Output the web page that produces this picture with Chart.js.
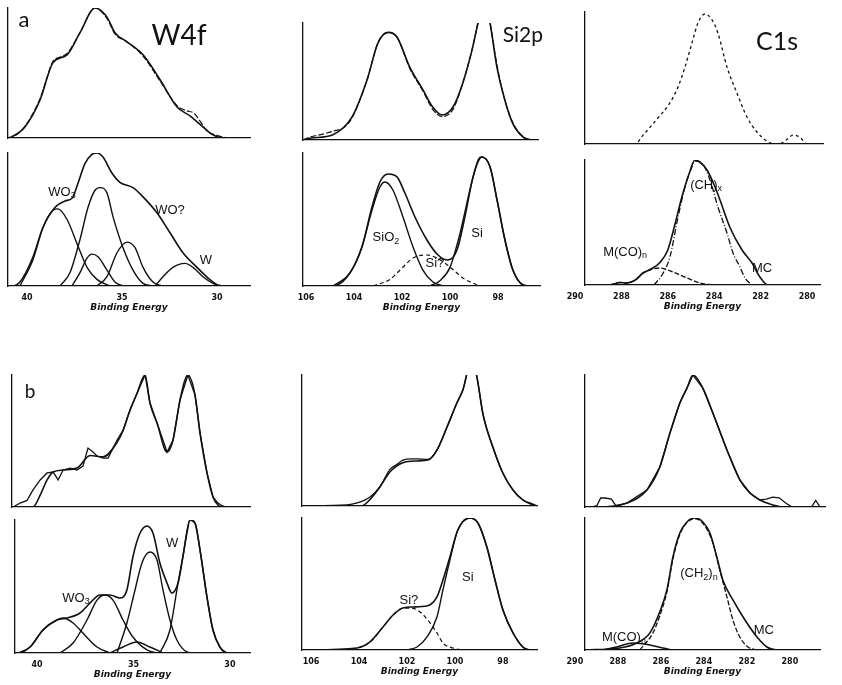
<!DOCTYPE html>
<html>
<head>
<meta charset="utf-8">
<script src="https://cdn.jsdelivr.net/npm/chart.js@4.4.1/dist/chart.umd.min.js"></script>
<style>
  body { margin: 0; background: #fff; }
  #page { position: relative; width: 842px; height: 685px; overflow: hidden; background: #fff; }
  canvas { position: absolute; }
</style>
</head>
<body>
<div id="page"></div>
<script>
// ---------------- tick labels ----------------
const w4fTicks = [40, 35, 30];
const si2pTicks = [106, 104, 102, 100, 98];
const c1sTicks = [290, 288, 286, 284, 282, 280];

// ================= a : W4f =================
const aW4fTopDataBE = [41.0, 40.79, 40.11, 39.32, 38.63, 38.3, 37.89, 37.21, 36.42, 35.79, 35.37, 34.74, 33.89, 33.0, 32.11, 31.6, 31.2, 30.89, 30.5, 30.0, 29.5];
const aW4fTopData   = [0, 0.5, 9, 30, 59, 62, 65, 81, 100, 92, 80, 74, 63, 44, 25, 21, 19, 13, 5, 2, 0];
const aW4fTopFitBE  = [41.0, 40.79, 40.11, 39.32, 38.63, 37.89, 37.21, 36.42, 35.79, 35.37, 34.74, 33.89, 33.0, 32.11, 31.42, 30.89, 30.37, 30.0, 29.68];
const aW4fTopFit    = [0, 1, 8.5, 29, 58, 64, 81, 100, 93, 81, 74, 64, 45, 24, 17, 10.5, 4, 1, 0];

const aW4fSumBE = [41.0, 40.79, 40.37, 39.68, 39.16, 38.53, 38.0, 37.63, 37.32, 36.95, 36.58, 36.32, 36.0, 35.53, 35.11, 34.42, 33.89, 33.16, 32.47, 31.79, 31.05, 30.47, 30.0, 29.74];
const aW4fSum   = [0, 0, 3, 22, 44, 59, 64, 66, 77, 92, 99, 100, 97, 85, 78, 74, 67, 55, 40, 25, 14, 6, 1, 0];
const aW4fC1BE = [40.37, 39.68, 39.16, 38.63, 38.37, 37.89, 37.37, 36.84, 36.32, 35.63];
const aW4fC1   = [0, 20, 44, 57, 58, 50, 32, 14, 5, 0];
const aW4fC2BE = [38.26, 37.74, 37.21, 36.79, 36.42, 36.16, 35.79, 35.47, 34.95, 34.42, 33.89, 33.37];
const aW4fC2   = [0, 10, 35, 59, 72, 74, 70, 52, 29, 12, 2, 0];
const aW4fC3BE = [37.63, 37.21, 36.84, 36.58, 36.26, 35.79, 35.37, 34.95];
const aW4fC3   = [0, 10, 21, 24, 22, 12, 3, 0];
const aW4fC4BE = [36.32, 35.79, 35.26, 34.74, 34.32, 33.89, 33.37, 32.84];
const aW4fC4   = [0, 7, 25, 33, 29, 14, 3, 0];
const aW4fC5BE = [33.26, 32.84, 32.32, 31.68, 31.26, 30.74, 30.21, 29.84];
const aW4fC5   = [0, 7, 14, 17, 14, 7, 2, 0];

// ================= a : Si2p =================
const aSiTopDataBE = [106.12, 105.83, 105.3, 104.88, 104.4, 104.08, 103.46, 103.0, 102.58, 102.21, 101.67, 101.13, 100.71, 100.33, 99.88, 99.46, 99.08, 98.83, 98.58, 98.33, 98.04, 97.71, 97.38, 96.96, 96.67, 96.33];
const aSiTopData   = [0, 2.5, 5, 7.5, 11, 19, 51, 83, 92, 88, 61, 42, 26, 20, 26, 49, 77, 100, 120, 100, 64, 34, 15, 3, 0.5, 0];
const aSiTopFitBE  = [106.12, 105.83, 104.88, 104.08, 103.46, 103.0, 102.58, 102.21, 101.67, 101.13, 100.71, 100.33, 99.88, 99.46, 99.08, 98.83, 98.58, 98.33, 98.04, 97.71, 97.38, 96.96, 96.67, 96.33];
const aSiTopFit    = [0, 1.5, 4.5, 19.7, 51, 83, 92, 88, 62, 43, 28, 21.4, 28, 49, 77, 100, 120, 100, 62, 34, 14, 2.6, 0, 0];

const aSiSumBE = [106.12, 104.88, 104.17, 103.67, 103.25, 102.92, 102.58, 102.21, 101.88, 101.46, 100.96, 100.5, 100.08, 99.71, 99.38, 99.04, 98.67, 98.33, 98.04, 97.71, 97.38, 96.96, 96.67, 96.25];
const aSiSum   = [0, 0, 9.8, 29.3, 59.4, 78.2, 84.2, 82, 69.9, 51.9, 34.6, 23.3, 19.5, 27, 51.9, 82, 97, 89.5, 64.7, 34.6, 12, 0.8, 0, 0];
const aSiO2BE = [104.88, 104.17, 103.67, 103.25, 102.92, 102.71, 102.38, 101.96, 101.54, 101.13, 100.71, 100.29];
const aSiO2   = [0, 9.8, 29.3, 57.1, 74.4, 78.2, 72.2, 51.9, 29.3, 12, 3, 0];
const aSiQBE = [103.2, 102.5, 102.08, 101.54, 100.96, 100.54, 100.0, 99.46, 98.88];
const aSiQ   = [0, 5, 12, 21, 23.3, 21, 14.3, 6, 0.8];
const aSiBE = [100.83, 100.42, 100.0, 99.58, 99.17, 98.83, 98.67, 98.33, 98.04, 97.71, 97.38, 96.96, 96.67];
const aSi   = [0, 4, 14, 39.8, 72.2, 94.7, 97, 89.5, 64.7, 34.6, 12, 0.8, 0];

// ================= a : C1s =================
const aC1sTopBE = [289.57, 287.6, 287.4, 287.1, 286.42, 285.91, 285.56, 285.26, 284.96, 284.70, 284.40, 284.09, 283.84, 283.45, 283.02, 282.59, 282.16, 281.90, 281.59, 281.2, 280.9, 280.6, 280.3, 280.0, 279.31];
const aC1sTop   = [0, 0, 0, 6, 19.8, 31.1, 43.2, 58.3, 76.5, 91.7, 98.5, 93.9, 84.1, 58.3, 38.6, 20.5, 9.1, 4.5, 0.8, 0, 3, 6.8, 5, 0, 0];

const aC1sSumBE = [289.57, 288.5, 288.06, 287.76, 287.4, 287.07, 286.7, 286.34, 286.0, 285.7, 285.4, 285.1, 284.83, 284.6, 284.31, 284.0, 283.75, 283.32, 282.8, 282.37, 282.03, 281.68, 279.44];
const aC1sSum   = [0, 0, 2, 1.6, 4, 9.6, 13, 18, 28, 48, 70, 88, 100, 98, 92, 80, 68, 46, 28, 17.6, 6.4, 0, 0];
const aCHBE = [286.6, 286.25, 285.91, 285.56, 285.26, 284.96, 284.83, 284.53, 284.18, 283.84, 283.45, 283.19, 282.89, 282.67, 282.37];
const aCH   = [0, 8, 22.4, 54.4, 78.4, 94.4, 99.2, 97.6, 84, 62.4, 41.6, 25.6, 14.4, 5.6, 0];
const aMCOBE = [288.5, 288.06, 287.76, 287.4, 287.07, 286.7, 286.34, 285.78, 285.17, 284.61, 284.05];
const aMCO   = [0, 2, 1.6, 4, 9.6, 12.5, 13.6, 10.4, 5.6, 1.6, 0];

// ================= b : W4f =================
const bW4fTopFitBE = [41.3, 40.21, 39.84, 39.48, 39.17, 38.65, 37.93, 37.25, 36.58, 35.85, 35.54, 35.18, 34.82, 34.40, 34.15, 33.78, 33.26, 32.95, 32.59, 32.18, 31.81, 31.55, 31.19, 30.88, 30.62, 30.41, 28.96];
const bW4fTopFit   = [0, 0, 9, 20.5, 26.5, 28, 29.5, 39, 38, 49, 58, 73.5, 86, 100, 79, 63.6, 41.7, 50.8, 81, 100, 84.8, 56, 25.8, 7.6, 1.5, 0, 0];
const bW4fTopDataBE = [41.3, 41.24, 40.88, 40.52, 40.21, 39.84, 39.48, 39.17, 38.91, 38.65, 38.29, 37.93, 37.62, 37.36, 37.10, 36.89, 36.58, 36.32, 35.85, 35.54, 35.18, 34.82, 34.40, 34.15, 33.78, 33.26, 32.95, 32.59, 32.18, 31.81, 31.55, 31.19, 30.88, 30.62, 30.41, 30.2, 28.96];
const bW4fTopData   = [0, 0, 3, 5, 12.9, 20.5, 25.8, 26.5, 20.5, 28, 29.5, 28, 31, 44.7, 41.7, 38.6, 37.1, 37.1, 50.8, 58.3, 73.5, 86, 100, 79, 63.6, 41.7, 50.8, 81, 100, 84.8, 56, 25.8, 7.6, 3, 1, 0, 0];

const bW4fSumBE = [41.14, 40.98, 40.36, 39.69, 38.96, 38.45, 37.77, 37.25, 36.74, 36.22, 35.70, 35.34, 35.03, 34.66, 34.30, 33.99, 33.63, 33.26, 33.01, 32.69, 32.44, 32.23, 32.07, 31.81, 31.55, 31.19, 30.88, 30.52, 30.16, 28.96];
const bW4fSum   = [0, 0, 4.5, 17.3, 24.8, 26.3, 30.1, 37.6, 43.6, 43.6, 41.4, 47.4, 72.2, 90.2, 95.5, 90.2, 67.7, 52.6, 45.1, 52.6, 72.2, 90.2, 100, 97.7, 77.4, 42.1, 17.3, 4.5, 0, 0];
const bW4fC1BE = [40.98, 40.36, 39.69, 39.07, 38.65, 38.13, 37.62, 36.89, 36.22];
const bW4fC1   = [0, 4.5, 17.3, 24.1, 26.3, 22.6, 15, 4.5, 0];
const bW4fC2BE = [38.81, 38.13, 37.41, 36.89, 36.48, 36.06, 35.54, 35.03, 34.30, 33.78];
const bW4fC2   = [0, 7.5, 24.8, 39.8, 43.6, 39.8, 24.8, 12, 2.3, 0];
const bW4fC3BE = [36.22, 35.54, 34.82, 34.15, 33.47];
const bW4fC3   = [0, 4.5, 8.3, 4.5, 0];
const bW4fC4BE = [35.85, 35.34, 34.92, 34.56, 34.15, 33.78, 33.47, 33.11, 32.75, 32.23, 31.92];
const bW4fC4   = [0, 22.6, 47.4, 67.7, 75.9, 69.9, 47.4, 24.8, 9.8, 0.8, 0];
const bW4fC5BE = [33.63, 33.11, 32.69, 32.44, 32.07, 31.81, 31.55, 31.19, 30.88, 30.52, 30.16];
const bW4fC5   = [0, 17.3, 52.6, 72.2, 100, 97.7, 77.4, 42.1, 17.3, 4.5, 0];

// ================= b : Si2p =================
const bSiTopFitBE = [106.37, 103.9, 103.54, 103.13, 102.71, 102.17, 101.58, 101.13, 100.75, 100.33, 99.92, 99.67, 99.3, 99.08, 98.83, 98.42, 98.0, 97.58, 97.17, 96.75, 96.58];
const bSiTopFit   = [0, 0, 5, 14.5, 26, 33, 34.4, 35.1, 42.7, 60.3, 78.6, 88.5, 112, 98, 70, 45, 25, 12.2, 4.6, 0.8, 0];
const bSiTopDataBE = [106.37, 104.5, 104.08, 103.54, 103.13, 102.71, 102.4, 102.17, 101.8, 101.58, 101.13, 100.75, 100.33, 99.92, 99.67, 99.3, 99.08, 98.83, 98.42, 98.0, 97.58, 97.17, 96.75, 96.58];
const bSiTopData   = [0, 0.8, 2.3, 6.9, 14.5, 28, 32, 35, 36, 36, 35.5, 42.7, 60.3, 78.6, 88.5, 112, 98, 70, 45, 25, 12.2, 4.6, 1.5, 0];

const bSiSumBE = [106.37, 104.08, 103.54, 103.0, 102.58, 102.17, 101.75, 101.17, 100.75, 100.5, 100.21, 99.88, 99.38, 99.04, 98.67, 98.33, 98.0, 97.58, 97.17, 96.88, 96.58];
const bSiSum   = [0, 1.5, 6.1, 17.4, 26.5, 31.8, 32.6, 33.3, 40.2, 53, 70.5, 90.9, 100, 96.2, 78, 53, 30.3, 12.9, 2.3, 0, 0];
const bSiBE = [102.0, 101.58, 101.17, 100.75, 100.5, 100.21, 99.88, 99.38, 99.04, 98.67, 98.33, 98.0, 97.58, 97.17, 96.88];
const bSi   = [0, 2.3, 9.8, 25, 45.5, 68.2, 90.9, 100, 96.2, 78, 53, 30.3, 12.9, 2.3, 0];
const bSiQBE = [104.3, 103.54, 103.0, 102.58, 102.17, 101.75, 101.4, 101.17, 100.75, 100.5, 100.08, 99.7];
const bSiQ   = [0, 6.1, 17.4, 26.5, 31.8, 31.6, 28, 23.5, 13, 5.3, 1.5, 0];

// ================= b : C1s =================
const bC1sTopFitBE = [289.53, 288.98, 287.58, 286.65, 286.05, 285.58, 285.12, 284.79, 284.51, 284.05, 283.58, 282.93, 282.33, 281.86, 281.40, 280.79, 280.3, 278.37];
const bC1sTopFit   = [0, 0, 3, 12.9, 30.3, 56, 78.8, 90, 100, 90, 71, 43.2, 20.5, 10.6, 5.3, 1.5, 0, 0];
const bC1sTopDataBE = [289.53, 289.2, 288.98, 288.8, 288.6, 288.3, 288.1, 287.58, 286.65, 286.05, 285.58, 285.12, 284.79, 284.51, 284.05, 283.58, 282.93, 282.33, 281.86, 281.40, 281.1, 280.8, 280.5, 280.2, 279.9, 279.6, 279.0, 278.8, 278.6, 278.37];
const bC1sTopData   = [0, 0, 1, 6.8, 6.8, 6, 1, 3, 12.9, 30.3, 56, 78.8, 90, 100, 90, 71, 43.2, 20.5, 10.6, 5.3, 6, 7.5, 7, 3, 0, 0, 0, 5, 0, 0];

const bC1sSumBE = [289.53, 287.91, 287.12, 286.51, 286.05, 285.72, 285.44, 285.12, 284.79, 284.42, 284.05, 283.72, 283.40, 283.12, 282.65, 282.09, 281.53, 281.07, 280.60, 278.6];
const bC1sSum   = [0, 1.5, 5.3, 13, 29, 45.5, 70.5, 88.6, 97, 100, 97, 88.6, 70.5, 53, 37.9, 22.7, 9.8, 2.3, 0, 0];
const bCHBE = [286.98, 286.37, 286.05, 285.72, 285.44, 285.12, 284.79, 284.42, 284.05, 283.72, 283.58, 283.26, 282.93, 282.65, 282.33, 281.95, 281.53];
const bCH   = [0, 13, 26, 44, 69, 87.5, 96.5, 99.5, 96, 87, 81.1, 60.6, 40.2, 22.7, 9.8, 2.3, 0];
const bMCOBE = [288.70, 288.05, 287.30, 286.51, 285.91, 285.44];
const bMCO   = [0, 2.3, 5.3, 3.8, 1.5, 0];

// ---------------- drawing ----------------
const INK = "#111";
const TICK_FONT = { family: "'DejaVu Sans', sans-serif", size: 8, weight: "bold" };
const TITLE_FONT = { family: "'DejaVu Sans', sans-serif", size: 9, weight: "bold", style: "italic" };
const LABEL_FONT = "13px 'Liberation Sans', Arial, sans-serif";
const SUB_FONT = "9px 'Liberation Sans', Arial, sans-serif";
const BIG = "'Lato', 'Open Sans', sans-serif";

const DATA = { borderDash: [6, 2], borderWidth: 1.2 };
const DOTS = { borderDash: [3, 3], borderWidth: 1.3 };
const DASH = { borderDash: [4, 3], borderWidth: 1.2 };
const COMP = { borderWidth: 1.4 };

function line(be, vals, style) {
  return Object.assign({
    data: be.map((x, i) => ({ x: x, y: vals[i] })),
    borderColor: INK,
    borderWidth: 1.6,
    pointRadius: 0,
    fill: false,
    cubicInterpolationMode: "monotone"
  }, style || {});
}

// text labels placed in data coordinates; "_x" = one subscript character
const labelPlugin = {
  id: "peakLabels",
  afterDatasetsDraw(chart, args, opts) {
    const ctx = chart.ctx;
    (opts.items || []).forEach(l => {
      const px = chart.scales.x.getPixelForValue(l.x);
      const py = chart.scales.y.getPixelForValue(l.y);
      const parts = l.t.split(/(_.)/).filter(s => s.length).map(s =>
        s[0] === "_" ? { s: s.slice(1), sub: true } : { s: s, sub: false });
      ctx.save();
      ctx.fillStyle = INK;
      ctx.textAlign = "left";
      ctx.textBaseline = l.font ? "alphabetic" : "middle";
      let w = 0;
      parts.forEach(p => {
        ctx.font = p.sub ? SUB_FONT : (l.font || LABEL_FONT);
        p.w = ctx.measureText(p.s).width;
        w += p.w;
      });
      let x = px - w / 2;
      parts.forEach(p => {
        ctx.font = p.sub ? SUB_FONT : (l.font || LABEL_FONT);
        ctx.fillText(p.s, x, p.sub ? py + 4 : py);
        x += p.w;
      });
      ctx.restore();
    });
  }
};

const panels = [
  // ---- a ----
  { L: 8, R: 250, T: 8, B: 138, left: 41.0, right: 28.26, ticks: w4fTicks, axis: false,
    curves: [line(aW4fTopDataBE, aW4fTopData, DATA), line(aW4fTopFitBE, aW4fTopFit)],
    labels: [{ t: "a", x: 40.16, y: 85.4, font: "22px " + BIG }, { t: "W4f", x: 32.0, y: 71.5, font: "28px " + BIG }] },
  { L: 8, R: 250, T: 153, B: 286, left: 41.0, right: 28.26, ticks: w4fTicks, axis: true,
    curves: [line(aW4fSumBE, aW4fSum), line(aW4fC1BE, aW4fC1, COMP), line(aW4fC2BE, aW4fC2, COMP),
             line(aW4fC3BE, aW4fC3, COMP), line(aW4fC4BE, aW4fC4, COMP), line(aW4fC5BE, aW4fC5, COMP)],
    labels: [{ t: "WO_3", x: 38.16, y: 70.7 }, { t: "WO?", x: 32.47, y: 57 }, { t: "W", x: 30.58, y: 19.5 }] },
  { L: 303, R: 538, T: 23, B: 140, left: 106.125, right: 96.33, ticks: si2pTicks, axis: false,
    curves: [line(aSiTopDataBE, aSiTopData, DATA), line(aSiTopFitBE, aSiTopFit)],
    labels: [{ t: "Si2p", x: 96.96, y: 83.8, font: "21px " + BIG }] },
  { L: 303, R: 540, T: 153, B: 286, left: 106.125, right: 96.25, ticks: si2pTicks, axis: true,
    curves: [line(aSiSumBE, aSiSum), line(aSiO2BE, aSiO2, COMP), line(aSiQBE, aSiQ, DASH), line(aSiBE, aSi, COMP)],
    labels: [{ t: "SiO_2", x: 102.67, y: 36.8 }, { t: "Si?", x: 100.63, y: 17 }, { t: "Si", x: 98.875, y: 39.8 }] },
  { L: 585, R: 823, T: 12, B: 144, left: 289.57, right: 279.31, ticks: c1sTicks, axis: false,
    curves: [line(aC1sTopBE, aC1sTop, DOTS)],
    labels: [{ t: "C1s", x: 281.29, y: 71.2, font: "25px " + BIG }] },
  { L: 585, R: 820, T: 160, B: 285, left: 289.57, right: 279.44, ticks: c1sTicks, axis: true,
    curves: [line(aC1sSumBE, aC1sSum), line(aCHBE, aCH, { borderDash: [6, 2, 1, 2], borderWidth: 1.3 }), line(aMCOBE, aMCO, { borderDash: [5, 2], borderWidth: 1.3 })],
    labels: [{ t: "M(CO)_n", x: 287.84, y: 26.4 }, { t: "(CH)_x", x: 284.35, y: 80 }, { t: "MC", x: 281.94, y: 13.6 }] },
  // ---- b ----
  { L: 12, R: 250, T: 375, B: 507, left: 41.30, right: 28.96, ticks: w4fTicks, axis: false,
    curves: [line(bW4fTopDataBE, bW4fTopData, { borderWidth: 1.3, cubicInterpolationMode: "default", tension: 0 }), line(bW4fTopFitBE, bW4fTopFit)],
    labels: [{ t: "b", x: 40.36, y: 82.6, font: "19px " + BIG }] },
  { L: 15, R: 250, T: 520, B: 653, left: 41.14, right: 28.96, ticks: w4fTicks, axis: true,
    curves: [line(bW4fSumBE, bW4fSum), line(bW4fC1BE, bW4fC1, COMP), line(bW4fC2BE, bW4fC2, COMP),
             line(bW4fC3BE, bW4fC3, COMP), line(bW4fC4BE, bW4fC4, COMP), line(bW4fC5BE, bW4fC5, COMP)],
    labels: [{ t: "WO_3", x: 37.98, y: 41.4 }, { t: "W", x: 33.0, y: 82.7 }] },
  { L: 302, R: 537, T: 375, B: 506, left: 106.375, right: 96.58, ticks: si2pTicks, axis: false,
    curves: [line(bSiTopDataBE, bSiTopData, { borderWidth: 1.3 }), line(bSiTopFitBE, bSiTopFit)],
    labels: [] },
  { L: 302, R: 537, T: 518, B: 650, left: 106.375, right: 96.58, ticks: si2pTicks, axis: true,
    curves: [line(bSiSumBE, bSiSum), line(bSiBE, bSi, COMP), line(bSiQBE, bSiQ, DASH)],
    labels: [{ t: "Si?", x: 101.92, y: 37.9 }, { t: "Si", x: 99.46, y: 55.3 }] },
  { L: 585, R: 825, T: 375, B: 507, left: 289.53, right: 278.37, ticks: c1sTicks, axis: false,
    curves: [line(bC1sTopDataBE, bC1sTopData, { borderWidth: 1.3, cubicInterpolationMode: "default", tension: 0 }), line(bC1sTopFitBE, bC1sTopFit)],
    labels: [] },
  { L: 585, R: 820, T: 518, B: 650, left: 289.53, right: 278.60, ticks: c1sTicks, axis: true,
    curves: [line(bC1sSumBE, bC1sSum), line(bCHBE, bCH, { borderDash: [5, 2], borderWidth: 1.3 }), line(bMCOBE, bMCO, COMP)],
    labels: [{ t: "M(CO)_n", x: 287.72, y: 9.8 }, { t: "(CH_2)_n", x: 284.23, y: 58.3 }, { t: "MC", x: 281.21, y: 15.2 }] }
];

const page = document.getElementById("page");

function makePanel(p) {
  const padL = 30, padR = 14, padT = 4, padB = 2;
  const axisH = p.axis ? 27 : 0;
  const w = p.R - p.L + padL + padR;
  const h = p.B - p.T + padT + axisH + padB;
  const cv = document.createElement("canvas");
  cv.width = w;
  cv.height = h;
  cv.style.left = (p.L - padL) + "px";
  cv.style.top = (p.T - padT) + "px";
  cv.style.width = w + "px";
  cv.style.height = h + "px";
  page.appendChild(cv);

  new Chart(cv.getContext("2d"), {
    type: "line",
    data: { datasets: p.curves },
    options: {
      responsive: false,
      animation: false,
      devicePixelRatio: 1,
      layout: { padding: { left: padL, right: padR, top: padT, bottom: padB } },
      plugins: {
        legend: { display: false },
        tooltip: { enabled: false },
        peakLabels: { items: p.labels }
      },
      scales: {
        x: {
          type: "linear",
          reverse: true,
          min: p.right,
          max: p.left,
          afterBuildTicks: s => { s.ticks = p.ticks.map(v => ({ value: v })); },
          afterFit: s => { s.height = axisH; },
          grid: { display: false, drawTicks: false },
          border: { display: true, color: INK, width: 1.3 },
          ticks: { display: p.axis, padding: 7, color: INK, font: TICK_FONT, maxRotation: 0, autoSkip: false },
          title: { display: p.axis, text: "Binding Energy", color: INK, font: TITLE_FONT, padding: 0 }
        },
        y: {
          min: 0,
          max: 100,
          afterFit: s => { s.width = 0; },
          grid: { display: false, drawTicks: false },
          border: { display: true, color: INK, width: 1.3 },
          ticks: { display: false }
        }
      }
    },
    plugins: [labelPlugin]
  });
}

panels.forEach(makePanel);
</script>
</body>
</html>
